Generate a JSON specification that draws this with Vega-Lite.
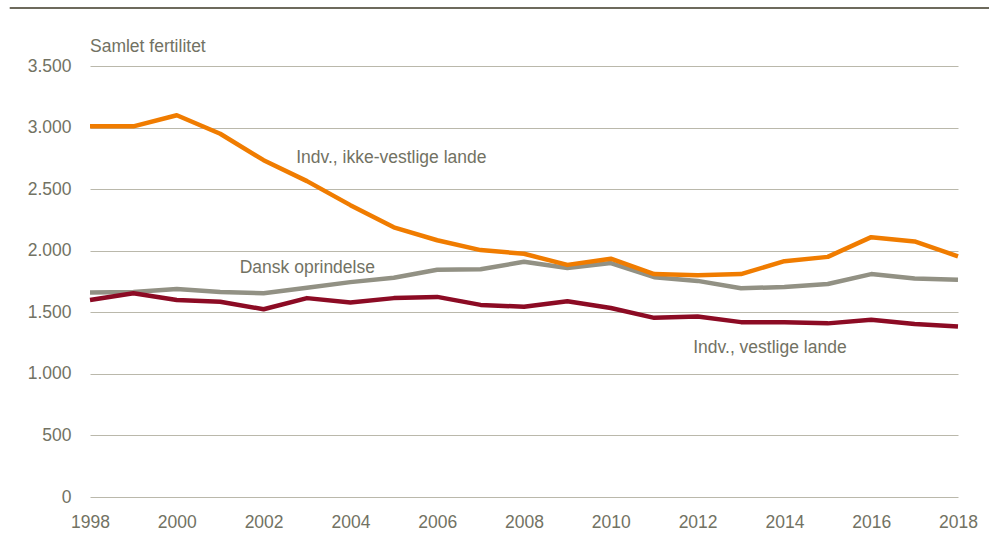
{
  "$schema": "https://vega.github.io/schema/vega-lite/v6.json",
  "width": 868,
  "height": 431,
  "autosize": {"type": "none"},
  "padding": {"left": 90, "top": 66, "right": 31, "bottom": 45},
  "background": "white",
  "config": {
    "view": {"stroke": null},
    "font": "Liberation Sans",
    "axis": {"labelFont": "Liberation Sans", "labelFontSize": 17.5, "labelColor": "#727263"}
  },
  "layer": [
    {
      "data": {
        "values": [
          {"year": 1998, "series": "Dansk oprindelse", "value": 1660},
          {"year": 1999, "series": "Dansk oprindelse", "value": 1665},
          {"year": 2000, "series": "Dansk oprindelse", "value": 1690},
          {"year": 2001, "series": "Dansk oprindelse", "value": 1665},
          {"year": 2002, "series": "Dansk oprindelse", "value": 1655},
          {"year": 2003, "series": "Dansk oprindelse", "value": 1700},
          {"year": 2004, "series": "Dansk oprindelse", "value": 1745},
          {"year": 2005, "series": "Dansk oprindelse", "value": 1780},
          {"year": 2006, "series": "Dansk oprindelse", "value": 1845},
          {"year": 2007, "series": "Dansk oprindelse", "value": 1850},
          {"year": 2008, "series": "Dansk oprindelse", "value": 1910},
          {"year": 2009, "series": "Dansk oprindelse", "value": 1860},
          {"year": 2010, "series": "Dansk oprindelse", "value": 1900},
          {"year": 2011, "series": "Dansk oprindelse", "value": 1785},
          {"year": 2012, "series": "Dansk oprindelse", "value": 1755},
          {"year": 2013, "series": "Dansk oprindelse", "value": 1695},
          {"year": 2014, "series": "Dansk oprindelse", "value": 1705},
          {"year": 2015, "series": "Dansk oprindelse", "value": 1730},
          {"year": 2016, "series": "Dansk oprindelse", "value": 1810},
          {"year": 2017, "series": "Dansk oprindelse", "value": 1775},
          {"year": 2018, "series": "Dansk oprindelse", "value": 1765},
          {"year": 1998, "series": "Indv., vestlige lande", "value": 1600},
          {"year": 1999, "series": "Indv., vestlige lande", "value": 1655},
          {"year": 2000, "series": "Indv., vestlige lande", "value": 1600},
          {"year": 2001, "series": "Indv., vestlige lande", "value": 1585},
          {"year": 2002, "series": "Indv., vestlige lande", "value": 1525},
          {"year": 2003, "series": "Indv., vestlige lande", "value": 1615},
          {"year": 2004, "series": "Indv., vestlige lande", "value": 1580},
          {"year": 2005, "series": "Indv., vestlige lande", "value": 1615},
          {"year": 2006, "series": "Indv., vestlige lande", "value": 1625},
          {"year": 2007, "series": "Indv., vestlige lande", "value": 1560},
          {"year": 2008, "series": "Indv., vestlige lande", "value": 1545},
          {"year": 2009, "series": "Indv., vestlige lande", "value": 1590},
          {"year": 2010, "series": "Indv., vestlige lande", "value": 1535},
          {"year": 2011, "series": "Indv., vestlige lande", "value": 1455},
          {"year": 2012, "series": "Indv., vestlige lande", "value": 1465},
          {"year": 2013, "series": "Indv., vestlige lande", "value": 1420},
          {"year": 2014, "series": "Indv., vestlige lande", "value": 1420},
          {"year": 2015, "series": "Indv., vestlige lande", "value": 1410},
          {"year": 2016, "series": "Indv., vestlige lande", "value": 1440},
          {"year": 2017, "series": "Indv., vestlige lande", "value": 1405},
          {"year": 2018, "series": "Indv., vestlige lande", "value": 1385},
          {"year": 1998, "series": "Indv., ikke-vestlige lande", "value": 3010},
          {"year": 1999, "series": "Indv., ikke-vestlige lande", "value": 3010},
          {"year": 2000, "series": "Indv., ikke-vestlige lande", "value": 3100},
          {"year": 2001, "series": "Indv., ikke-vestlige lande", "value": 2950},
          {"year": 2002, "series": "Indv., ikke-vestlige lande", "value": 2735},
          {"year": 2003, "series": "Indv., ikke-vestlige lande", "value": 2565},
          {"year": 2004, "series": "Indv., ikke-vestlige lande", "value": 2370},
          {"year": 2005, "series": "Indv., ikke-vestlige lande", "value": 2190},
          {"year": 2006, "series": "Indv., ikke-vestlige lande", "value": 2085},
          {"year": 2007, "series": "Indv., ikke-vestlige lande", "value": 2005},
          {"year": 2008, "series": "Indv., ikke-vestlige lande", "value": 1975},
          {"year": 2009, "series": "Indv., ikke-vestlige lande", "value": 1885},
          {"year": 2010, "series": "Indv., ikke-vestlige lande", "value": 1935},
          {"year": 2011, "series": "Indv., ikke-vestlige lande", "value": 1810},
          {"year": 2012, "series": "Indv., ikke-vestlige lande", "value": 1800},
          {"year": 2013, "series": "Indv., ikke-vestlige lande", "value": 1810},
          {"year": 2014, "series": "Indv., ikke-vestlige lande", "value": 1915},
          {"year": 2015, "series": "Indv., ikke-vestlige lande", "value": 1950},
          {"year": 2016, "series": "Indv., ikke-vestlige lande", "value": 2110},
          {"year": 2017, "series": "Indv., ikke-vestlige lande", "value": 2075},
          {"year": 2018, "series": "Indv., ikke-vestlige lande", "value": 1955}
        ]
      },
      "mark": {"type": "line", "strokeWidth": 4.5, "strokeJoin": "round", "strokeCap": "butt"},
      "encoding": {
        "x": {
          "field": "year",
          "type": "quantitative",
          "scale": {"domain": [1998, 2018], "nice": false, "zero": false},
          "axis": {
            "title": null,
            "values": [1998, 2000, 2002, 2004, 2006, 2008, 2010, 2012, 2014, 2016, 2018],
            "format": "d",
            "domain": false,
            "ticks": false,
            "grid": false,
            "labelPadding": 16,
            "labelFlush": false
          }
        },
        "y": {
          "field": "value",
          "type": "quantitative",
          "scale": {"domain": [0, 3500], "nice": false},
          "axis": {
            "title": null,
            "values": [0, 500, 1000, 1500, 2000, 2500, 3000, 3500],
            "labelExpr": "replace(format(datum.value, ','), ',', '.')",
            "domain": false,
            "ticks": false,
            "grid": true,
            "gridColor": "#bab8ab",
            "gridWidth": 1,
            "labelPadding": 19
          }
        },
        "color": {
          "field": "series",
          "type": "nominal",
          "scale": {
            "domain": ["Dansk oprindelse", "Indv., vestlige lande", "Indv., ikke-vestlige lande"],
            "range": ["#929184", "#8c0b24", "#f07c00"]
          },
          "legend": null
        },
        "order": {"field": "year"}
      }
    },
    {
      "data": {"values": [{}]},
      "mark": {"type": "rule", "clip": false, "color": "#6d6a5c", "strokeWidth": 2},
      "encoding": {
        "x": {"datum": 1996.15},
        "x2": {"datum": 2018.75},
        "y": {"datum": 3970}
      }
    },
    {
      "data": {"values": [{}]},
      "mark": {"type": "text", "align": "left", "baseline": "alphabetic", "fontSize": 17.5, "color": "#727263", "font": "Liberation Sans", "clip": false},
      "encoding": {
        "x": {"datum": 1998},
        "y": {"datum": 3613},
        "text": {"value": "Samlet fertilitet"}
      }
    },
    {
      "data": {"values": [{}]},
      "mark": {"type": "text", "align": "left", "baseline": "middle", "fontSize": 17.5, "color": "#727263", "font": "Liberation Sans"},
      "encoding": {
        "x": {"datum": 2002.75},
        "y": {"datum": 2753},
        "text": {"value": "Indv., ikke-vestlige lande"}
      }
    },
    {
      "data": {"values": [{}]},
      "mark": {"type": "text", "align": "left", "baseline": "middle", "fontSize": 17.5, "color": "#727263", "font": "Liberation Sans"},
      "encoding": {
        "x": {"datum": 2001.45},
        "y": {"datum": 1860},
        "text": {"value": "Dansk oprindelse"}
      }
    },
    {
      "data": {"values": [{}]},
      "mark": {"type": "text", "align": "left", "baseline": "middle", "fontSize": 17.5, "color": "#727263", "font": "Liberation Sans"},
      "encoding": {
        "x": {"datum": 2011.9},
        "y": {"datum": 1210},
        "text": {"value": "Indv., vestlige lande"}
      }
    }
  ]
}
